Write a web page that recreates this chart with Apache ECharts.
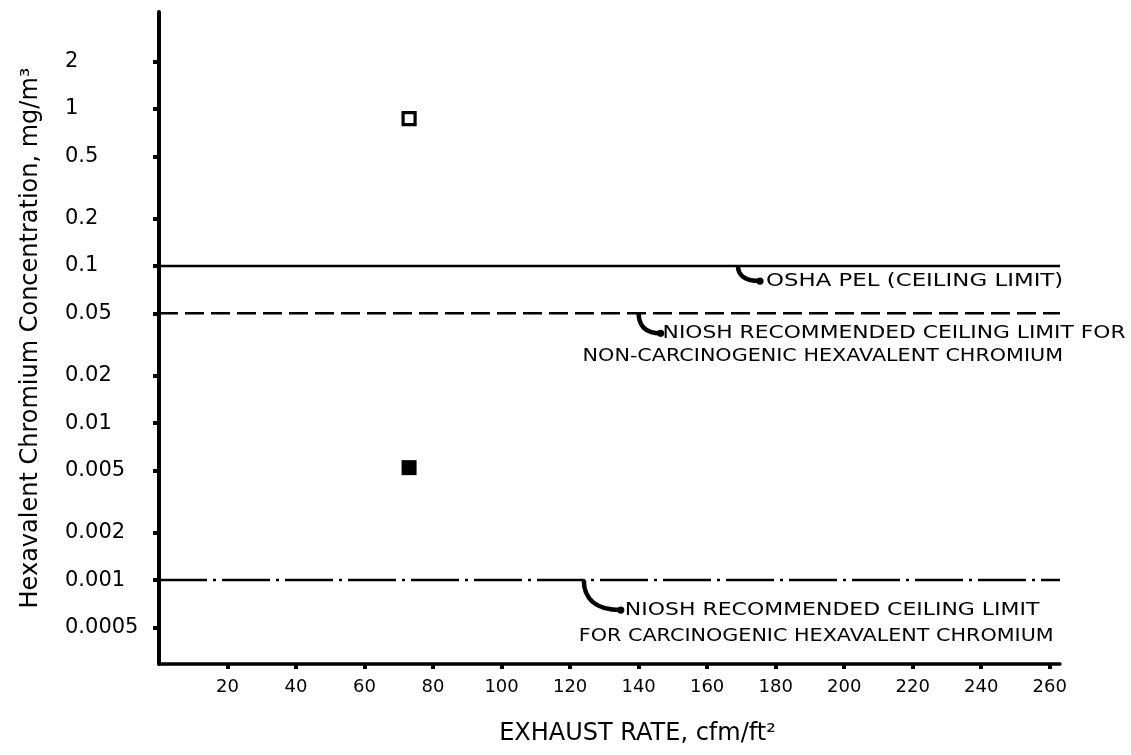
<!DOCTYPE html>
<html><head><meta charset="utf-8">
<script src="https://cdn.jsdelivr.net/npm/echarts@6/dist/echarts.min.js"></script>
<style>html,body{margin:0;padding:0;background:#fff}#c{width:1131px;height:755px}</style>
</head><body><div id="c"></div>
<script>
// ---- data ----
const xTicks = [20, 40, 60, 80, 100, 120, 140, 160, 180, 200, 220, 240, 260];
const yTicks = [0.0005, 0.001, 0.002, 0.005, 0.01, 0.02, 0.05, 0.1, 0.2, 0.5, 1, 2];
const hollowPoints = [[73, 0.87]];
const filledPoints = [[73, 0.0052]];
const limitValues = [0.1, 0.05, 0.001];
const limitDash = ['solid', 'dashed', 'dashdot'];
const xRange = [0, 263];
const annoX = [169, 140, 124];
const annoLine1 = ['OSHA PEL (CEILING LIMIT)', 'NIOSH RECOMMENDED CEILING LIMIT FOR', 'NIOSH RECOMMENDED CEILING LIMIT'];
const annoLine2 = ['', 'NON-CARCINOGENIC HEXAVALENT CHROMIUM', 'FOR CARCINOGENIC HEXAVALENT CHROMIUM'];
const xTitle = 'EXHAUST RATE, cfm/ft²';
const yTitle = 'Hexavalent Chromium Concentration, mg/m³';

// ---- layout / style ----
const FONT = 'DejaVu Sans';
const dashStyles = { solid: 'solid', dashed: [19, 7], dashdot: [48, 6, 3, 6] };
const hookLayout = [
  { hx: 22, hy: 15, t1: 28, s1: 1.27, t2x: 0, t2y: 0, s2: 1 },
  { hx: 22, hy: 20, t1: 24, s1: 1.21, t2x: -56, t2y: 23, s2: 1.15 },
  { hx: 37, hy: 30, t1: 41, s1: 1.22, t2x: -5, t2y: 26, s2: 1.15 }
];

const chart = echarts.init(document.getElementById('c'), null, { renderer: 'canvas' });

const limitSeries = limitValues.map((v, i) => ({
  type: 'line',
  data: [[xRange[0], v], [xRange[1], v]],
  symbol: 'none', silent: true, z: 3,
  lineStyle: { type: dashStyles[limitDash[i]], width: 2.6, color: '#000', opacity: 1 }
}));

chart.setOption({
  backgroundColor: '#fff',
  animation: false,
  grid: { left: 159, right: 71, top: 12, bottom: 91 },
  xAxis: {
    type: 'value', min: xRange[0], max: xRange[1],
    name: xTitle, nameLocation: 'middle', nameGap: 58,
    nameTextStyle: { fontFamily: FONT, fontSize: 24, color: '#000', padding: [0, 0, 0, 56] },
    axisLine: { show: true, onZero: false, lineStyle: { color: '#000', width: 3.5 } },
    axisTick: { show: true, customValues: xTicks, length: 5, lineStyle: { color: '#000', width: 4 } },
    axisLabel: { customValues: xTicks, margin: 14, fontFamily: FONT, fontSize: 18, color: '#000' },
    splitLine: { show: false }
  },
  yAxis: {
    type: 'log', logBase: 10, min: 0.000292, max: 4.15,
    name: yTitle, nameLocation: 'middle', nameGap: 116, nameRotate: 90,
    nameTextStyle: { fontFamily: FONT, fontSize: 24, color: '#000' },
    axisLine: { show: true, lineStyle: { color: '#000', width: 4 } },
    axisTick: { show: true, customValues: yTicks, length: 6, lineStyle: { color: '#000', width: 4 } },
    axisLabel: {
      customValues: yTicks, align: 'left', margin: 94,
      fontFamily: FONT, fontSize: 21, color: '#000',
      formatter: v => String(v)
    },
    splitLine: { show: false },
    minorTick: { show: false }
  },
  series: [
    {
      type: 'scatter', data: hollowPoints, symbol: 'rect', symbolSize: 12,
      itemStyle: { color: '#fff', borderColor: '#000', borderWidth: 3.2, opacity: 1 }, z: 5
    },
    {
      type: 'scatter', data: filledPoints, symbol: 'rect', symbolSize: 15,
      itemStyle: { color: '#000', opacity: 1 }, z: 5
    }
  ].concat(limitSeries)
});

// annotations anchored to the limit lines through the chart's scales
const graphics = [];
limitValues.forEach((v, i) => {
  const p = chart.convertToPixel({ gridIndex: 0 }, [annoX[i], v]);
  const L = hookLayout[i];
  const sx = p[0], sy = p[1], ex = sx + L.hx, ey = sy + L.hy;
  graphics.push({
    type: 'bezierCurve', z: 10,
    shape: { x1: sx, y1: sy, cpx1: sx, cpy1: sy + L.hy * 0.6, cpx2: sx + L.hx * 0.3, cpy2: ey, x2: ex, y2: ey },
    style: { fill: null, stroke: '#000', lineWidth: 4.5 }
  });
  graphics.push({ type: 'circle', z: 10, shape: { cx: ex, cy: ey, r: 3.6 }, style: { fill: '#000' } });
  graphics.push({
    type: 'text', z: 10, x: sx + L.t1, y: ey, scaleX: L.s1,
    style: { text: annoLine1[i], font: `18px "${FONT}"`, fill: '#000', verticalAlign: 'middle', align: 'left' }
  });
  if (annoLine2[i]) {
    graphics.push({
      type: 'text', z: 10, x: sx + L.t2x, y: ey + L.t2y, scaleX: L.s2,
      style: { text: annoLine2[i], font: `18px "${FONT}"`, fill: '#000', verticalAlign: 'middle', align: 'left' }
    });
  }
});
chart.setOption({ graphic: graphics });
</script>
</body></html>
